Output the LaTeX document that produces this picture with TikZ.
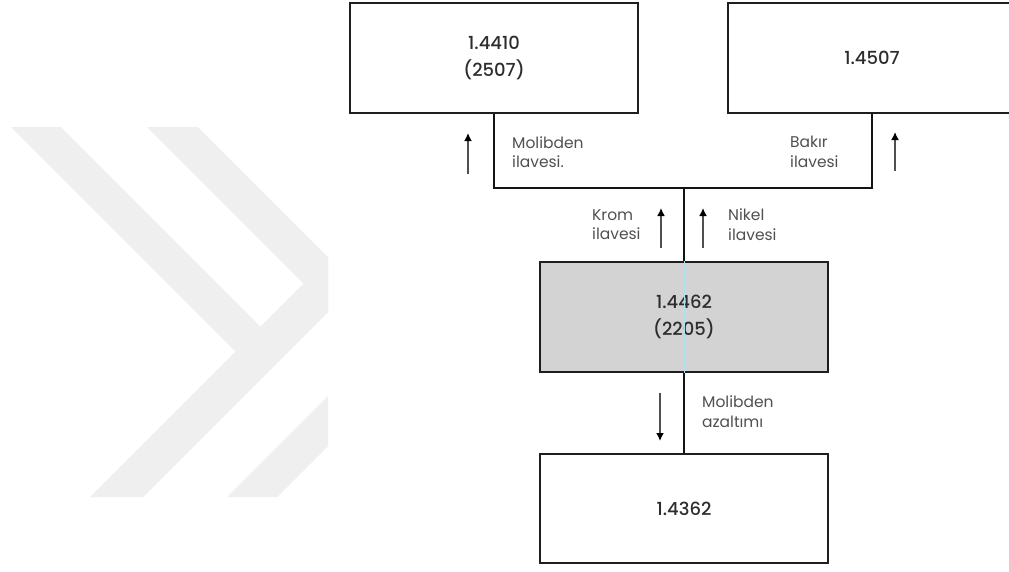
\documentclass[tikz,border=0pt]{standalone}
\usepackage{fontspec}
\setmainfont{Poppins}
\newfontfamily\numfont{Poppins Medium}
\usetikzlibrary{arrows.meta}
\definecolor{wm}{RGB}{239,239,239}
\definecolor{boxline}{RGB}{30,30,30}
\definecolor{connline}{RGB}{20,20,20}
\definecolor{numtext}{RGB}{45,45,45}
\definecolor{lbltext}{RGB}{80,80,80}
\definecolor{arrline}{RGB}{80,80,80}
\definecolor{boxfill}{RGB}{211,211,211}
\definecolor{artifact}{RGB}{170,228,236}
\begin{document}
\begin{tikzpicture}[x=1pt,y=-1pt,
  box/.style={draw=boxline,line width=2pt,minimum width=288pt,minimum height=110pt,inner sep=0pt,font=\numfont\fontsize{18}{27}\selectfont,text=numtext,align=center},
  conn/.style={draw=connline,line width=2.5pt},
  lbl/.style={anchor=west,align=left,inner sep=0pt,text=lbltext,font=\fontsize{15.5}{19.5}\selectfont},
  arr/.style={draw=arrline,line width=1.6pt,-{Latex[length=8pt,width=8pt,color=black]}}]
\useasboundingbox (0,0) rectangle (1009,571);
\fill[white] (0,0) rectangle (1009,571);
% watermark
\begin{scope}
\clip (0,127) rectangle (328,497);
\fill[wm] (11,127) -- (61,127) -- (287,353) -- (235.5,351.5) -- cycle;
\fill[wm] (90,497) -- (143,497) -- (393,247) -- (340,247) -- cycle;
\fill[wm] (147,127) -- (198,127) -- (448,377) -- (397,377) -- cycle;
\fill[wm] (227,497) -- (277,497) -- (477,297) -- (427,297) -- cycle;
\end{scope}
% boxes
\node[box] (b1) at (494,58) {1.4410\\(2507)};
\node[box] (b2) at (872,57.5) {1.4507};
\node[box,fill=boxfill] (b3) at (684,317) {1.4462\\(2205)};
\node[box,minimum height=109pt] (b4) at (684,508.5) {1.4362};
\draw[artifact,line width=0.8pt] (b3.north) -- (b3.south);
% connectors
\coordinate (j) at (684,188);
\draw[conn] (b1.south) |- (j) -| (b2.south);
\draw[conn] (j) -- (b3.north);
\draw[conn] (b3.south) -- (b4.north);
% labels
\node[lbl] (l1) at (512,152) {Molibden\\ilavesi.};
\node[lbl] (l2) at (790,152) {Bakır\\ilavesi};
\node[lbl] (l3) at (592,224.5) {Krom\\ilavesi};
\node[lbl] (l4) at (728,224.5) {Nikel\\ilavesi};
\node[lbl] (l5) at (702,411.5) {Molibden\\azaltımı};
% arrows
\coordinate (a1s) at (468,174); \coordinate (a1e) at (468,133);
\coordinate (a2s) at (895,171); \coordinate (a2e) at (895,132);
\coordinate (a3s) at (661,248); \coordinate (a3e) at (661,208);
\coordinate (a4s) at (703,248); \coordinate (a4e) at (703,208);
\coordinate (a5s) at (660,393); \coordinate (a5e) at (660,441);
\draw[arr] (a1s) -- (a1e);
\draw[arr] (a2s) -- (a2e);
\draw[arr] (a3s) -- (a3e);
\draw[arr] (a4s) -- (a4e);
\draw[arr] (a5s) -- (a5e);
\end{tikzpicture}
\end{document}
